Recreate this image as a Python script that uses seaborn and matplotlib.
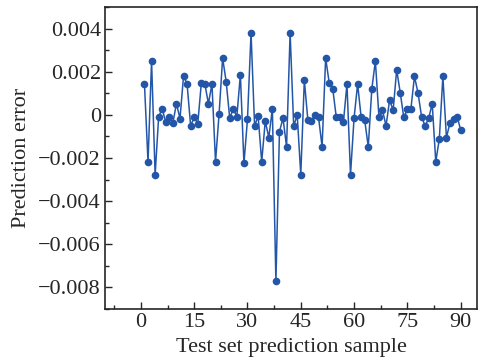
import numpy as np
import pandas as pd
import matplotlib
matplotlib.use("Agg")
import matplotlib.pyplot as plt
from matplotlib.ticker import MultipleLocator, FuncFormatter
import seaborn as sns

sample = list(range(1, 91))
error = [
    0.00143, -0.00218, 0.00249, -0.00277, -0.00008, 0.00028, -0.00035, -0.00008, -0.00037, 0.00052,
    -0.00017, 0.00180, 0.00143, -0.00051, -0.00011, -0.00042, 0.00146, 0.00143, 0.00052, 0.00143,
    -0.00217, 0.00003, 0.00263, 0.00154, -0.00015, 0.00028, -0.00008, 0.00186, -0.00225, -0.00020,
    0.00380, -0.00051, -0.00006, -0.00217, -0.00029, -0.00105, 0.00028, -0.00772, -0.00078, -0.00015,
    -0.00148, 0.00380, -0.00051, -0.00002, -0.00277, 0.00160, -0.00025, -0.00029, 0.00000, -0.00011,
    -0.00148, 0.00263, 0.00149, 0.00121, -0.00012, -0.00008, -0.00034, 0.00143, -0.00277, -0.00015,
    0.00143, -0.00012, -0.00026, -0.00148, 0.00121, 0.00249, -0.00008, 0.00022, -0.00051, 0.00068,
    0.00022, 0.00209, 0.00102, -0.00012, 0.00026, 0.00028, 0.00178, 0.00102, -0.00008, -0.00052,
    -0.00015, 0.00051, -0.00217, -0.00112, 0.00178, -0.00105, -0.00037, -0.00017, -0.00008, -0.00069,
]
x_ticks = [0, 15, 30, 45, 60, 75, 90]
y_ticks = [0.004, 0.002, 0, -0.002, -0.004, -0.006, -0.008]

sns.set_style("ticks")
plt.rcParams["font.family"] = ["Liberation Serif", "DejaVu Serif"]
plt.rcParams["mathtext.fontset"] = "stix"

df = pd.DataFrame({"sample": sample, "error": error})

fig = plt.figure(figsize=(4.84, 3.62), dpi=100)
ax = fig.add_axes([0.217, 0.1464, 0.7685, 0.8343])
color = "#2456A8"
sns.lineplot(data=df, x="sample", y="error", ax=ax, color=color, linewidth=1.1,
             marker="o", markersize=5.5, markeredgewidth=0, markerfacecolor=color)

ax.set_xlim(-10.1, 94.6)
ax.set_ylim(-0.009, 0.005)
ax.set_xticks(x_ticks)
ax.set_yticks(y_ticks)
ax.xaxis.set_minor_locator(MultipleLocator(7.5))
ax.yaxis.set_minor_locator(MultipleLocator(0.001))

def yfmt(v, pos):
    if abs(v) < 1e-12:
        return "0"
    s = f"{v:.3f}"
    return s.replace("-", "\u2212")

ax.yaxis.set_major_formatter(FuncFormatter(yfmt))
ax.tick_params(axis="both", which="major", direction="in", length=5, width=1,
               labelsize=16, top=False, right=False, pad=3)
ax.tick_params(axis="both", which="minor", direction="in", length=3, width=1,
               top=False, right=False)
for sp in ax.spines.values():
    sp.set_linewidth(1.2)
    sp.set_visible(True)

ax.set_xlabel("Test set prediction sample", fontsize=16, labelpad=4)
ax.set_ylabel("Prediction error", fontsize=16, labelpad=5)

fig.savefig("out.png", dpi=100)
